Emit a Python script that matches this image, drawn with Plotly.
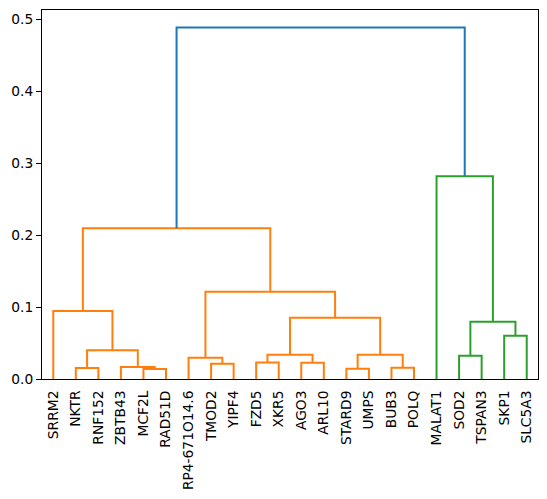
import plotly.graph_objects as go

labels = ["SRRM2", "NKTR", "RNF152", "ZBTB43", "MCF2L", "RAD51D", "RP4-671O14.6",
          "TMOD2", "YIPF4", "FZD5", "XKR5", "AGO3", "ARL10", "STARD9", "UMPS",
          "BUB3", "POLQ", "MALAT1", "SOD2", "TSPAN3", "SKP1", "SLC5A3"]

# merges: (left id, right id, height); new cluster id = n_leaves + merge index
merge_left = [1, 4, 3, 22, 0, 7, 6, 9, 11, 29, 13, 15, 32, 31, 28, 26, 18, 20, 38, 17, 37]
merge_right = [2, 5, 23, 24, 25, 8, 27, 10, 12, 30, 14, 16, 33, 34, 35, 36, 19, 21, 39, 40, 41]
merge_height = [0.0153, 0.0139, 0.0167, 0.040, 0.0944, 0.0213, 0.0296, 0.0231, 0.0227,
                0.0338, 0.0143, 0.0157, 0.0338, 0.0852, 0.1213, 0.2097, 0.0324, 0.0602,
                0.0796, 0.282, 0.4886]

n = len(labels)
palette = ["#ff7f0e", "#2ca02c", "#d62728", "#9467bd"]
above_color = "#1f77b4"
threshold = 0.7 * max(merge_height)

xpos = {i: 5 + 10 * i for i in range(n)}
hpos = {i: 0.0 for i in range(n)}
children = {}
for k, (a, b, h) in enumerate(zip(merge_left, merge_right, merge_height)):
    cid = n + k
    xpos[cid] = (xpos[a] + xpos[b]) / 2
    hpos[cid] = h
    children[cid] = (a, b)

link_color = {}
root = n + len(merge_height) - 1
color_idx = [0]

def paint(c, col):
    if c < n:
        return
    link_color[c] = col
    for ch in children[c]:
        paint(ch, col)

def assign(c):
    if c < n:
        return
    if hpos[c] < threshold:
        paint(c, palette[color_idx[0] % len(palette)])
        color_idx[0] += 1
    else:
        link_color[c] = above_color
        for ch in children[c]:
            assign(ch)

assign(root)

fig = go.Figure()
for cid in range(n, root + 1):
    a, b = children[cid]
    fig.add_trace(go.Scatter(
        x=[xpos[a], xpos[a], xpos[b], xpos[b]],
        y=[hpos[a], hpos[cid], hpos[cid], hpos[b]],
        mode="lines", line=dict(color=link_color[cid], width=2),
        hoverinfo="skip", showlegend=False))

fig.update_layout(
    width=539, height=491,
    margin=dict(l=34, r=9, t=2, b=120),
    paper_bgcolor="white", plot_bgcolor="white",
    font=dict(family="DejaVu Sans", size=13.8, color="black"),
    showlegend=False,
)
fig.update_xaxes(
    range=[0, 10 * n], tickvals=[5 + 10 * i for i in range(n)], ticktext=labels,
    tickangle=-90, ticks="outside", ticklen=5, tickcolor="rgba(0,0,0,0)",
    showgrid=False, zeroline=False, automargin=False,
    showline=True, linecolor="black", linewidth=1, mirror=True,
)
fig.update_yaxes(
    range=[0, max(merge_height) * 1.05], dtick=0.1, tick0=0, tickformat=".1f",
    ticks="outside", ticklen=5, tickcolor="black", showgrid=False, zeroline=False,
    automargin=False,
    showline=True, linecolor="black", linewidth=1, mirror=True,
)
fig.write_html("out.html")
